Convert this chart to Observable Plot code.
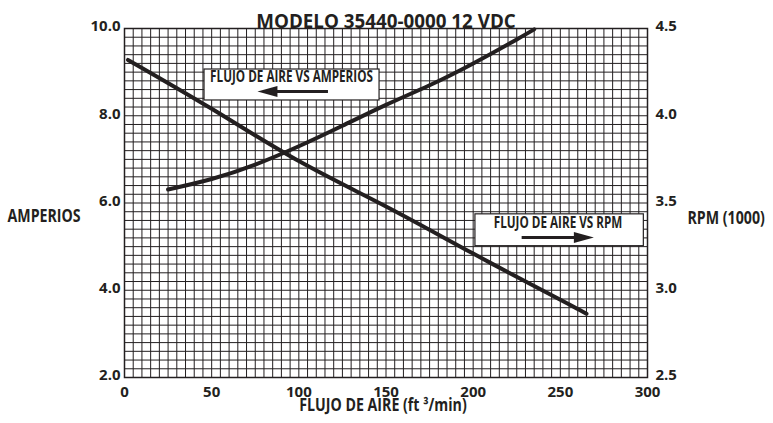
<!DOCTYPE html>
<html>
<head>
<meta charset="utf-8">
<script src="https://cdn.jsdelivr.net/npm/d3@7"></script>
<script src="https://cdn.jsdelivr.net/npm/@observablehq/plot@0.6"></script>
<style>
  html, body { margin: 0; padding: 0; background: #fff; }
  #chart svg { display: block; }
</style>
</head>
<body>
<div id="chart"></div>
<script>
// ---- Data ----
const title = "MODELO 35440-0000 12 VDC";
const xLabel = "FLUJO DE AIRE (ft \u00b3/min)";
const leftLabel = "AMPERIOS";
const rightLabel = "RPM (1000)";

// Airflow vs amps (left axis)
const ampFlow = [25, 50, 75, 100, 125, 150, 175, 200, 225, 235];
const ampValues = [6.31, 6.55, 6.88, 7.30, 7.77, 8.25, 8.70, 9.20, 9.75, 9.98];

// Airflow vs RPM (x1000, right axis)
const rpmFlow = [2, 50, 100, 150, 200, 250, 265];
const rpmValues = [4.32, 4.04, 3.74, 3.48, 3.21, 2.945, 2.865];

// Tick labels
const xTicks = [0, 50, 100, 150, 200, 250, 300];
const ampTicks = [2, 4, 6, 8, 10];
const rpmTicks = [2.5, 3.0, 3.5, 4.0, 4.5];

const ampLabelText = "FLUJO DE AIRE VS AMPERIOS";
const rpmLabelText = "FLUJO DE AIRE VS RPM";

// ---- Dual-axis mapping: RPM domain [2.5, 4.5] onto amp domain [2, 10] ----
const ampDomain = [2, 10];
const rpmDomain = [2.5, 4.5];
const rpmToAmp = d3.scaleLinear().domain(rpmDomain).range(ampDomain);

const ampData = ampFlow.map((x, i) => ({x, y: ampValues[i]}));
const rpmData = rpmFlow.map((x, i) => ({x, y: rpmToAmp(rpmValues[i])}));

const ink = "#231f20";
const font = "'Open Sans', 'Noto Sans', sans-serif";

// Custom filled arrowheads
const headRight = {draw(ctx) { ctx.moveTo(10, 0); ctx.lineTo(-10, -5.5); ctx.lineTo(-10, 5.5); ctx.closePath(); }};
const headLeft = {draw(ctx) { ctx.moveTo(-10, 0); ctx.lineTo(10, -5.5); ctx.lineTo(10, 5.5); ctx.closePath(); }};

const chart = Plot.plot({
  width: 773,
  height: 423,
  marginLeft: 124,
  marginRight: 126,
  marginTop: 28,
  marginBottom: 46,
  style: {fontFamily: font, fontSize: "15px", color: ink, background: "#fff", overflow: "visible"},
  x: {domain: [0, 300]},
  y: {domain: ampDomain},
  marks: [
    // graph-paper grid
    Plot.ruleX(d3.range(0, 301, 5), {stroke: ink, strokeWidth: 1}),
    Plot.ruleY(d3.range(0, 41).map(i => 2 + i * 0.2), {stroke: ink, strokeWidth: 1}),
    Plot.frame({stroke: ink, strokeWidth: 1.5}),

    // axes
    Plot.axisX(xTicks, {tickSize: 0, tickPadding: 9, label: null, fontWeight: "bold", fontSize: 15}),
    Plot.axisY(ampTicks, {anchor: "left", tickSize: 0, tickPadding: 4, dy: -2, label: null,
      tickFormat: d => d.toFixed(1), fontWeight: "bold", fontSize: 15}),
    Plot.axisY(rpmTicks.map(rpmToAmp), {anchor: "right", tickSize: 0, tickPadding: 8, dy: -2, label: null,
      tickFormat: d => rpmToAmp.invert(d).toFixed(1), fontWeight: "bold", fontSize: 15}),

    // curves
    Plot.line(rpmData, {x: "x", y: "y", stroke: ink, strokeWidth: 4, curve: "natural"}),
    Plot.line(ampData, {x: "x", y: "y", stroke: ink, strokeWidth: 4, curve: "natural"}),

    // annotation boxes
    Plot.rect([ampLabelText], {x1: 45.9, x2: 146.3, y1: 8.35, y2: 9.06, fill: "#fff", stroke: ink, strokeWidth: 1.2}),
    Plot.text([ampLabelText], {x: 95.8, y: 8.89, text: d => d, fontWeight: "bold", fontSize: 16, fill: ink}),
    Plot.ruleY([8.556], {x1: 83, x2: 117, stroke: ink, strokeWidth: 3}),
    Plot.dot([8.556], {x: 82, y: d => d, symbol: headLeft, fill: ink, stroke: null}),

    Plot.rect([rpmLabelText], {x1: 201.3, x2: 297.9, y1: 5.01, y2: 5.74, fill: "#fff", stroke: ink, strokeWidth: 1.2}),
    Plot.text([rpmLabelText], {x: 248.7, y: 5.54, text: d => d, fontWeight: "bold", fontSize: 16, fill: ink}),
    Plot.ruleY([5.209], {x1: 228.1, x2: 262, stroke: ink, strokeWidth: 3}),
    Plot.dot([5.209], {x: 263.5, y: d => d, symbol: headRight, fill: ink, stroke: null}),

    // titles and axis labels
    Plot.text([title], {frameAnchor: "top", dy: -14, fontWeight: "bold", fontSize: 18.8, fill: ink}),
    Plot.text([xLabel], {frameAnchor: "bottom", dx: -3, dy: 33, fontWeight: "bold", fontSize: 17.5, fill: ink}),
    Plot.text([leftLabel], {frameAnchor: "left", textAnchor: "start", dx: -117, dy: 13.5, fontWeight: "bold", fontSize: 17.5, fill: ink}),
    Plot.text([rightLabel], {frameAnchor: "right", textAnchor: "start", dx: 40, dy: 15.5, fontWeight: "bold", fontSize: 17.5, fill: ink})
  ]
});

document.getElementById("chart").appendChild(chart);

// Condense the texts that the reference sets in a narrow face
const condensed = new Map([
  [ampLabelText, 0.73], [rpmLabelText, 0.73],
  [xLabel, 0.81], [leftLabel, 0.81], [rightLabel, 0.81]
]);
chart.querySelectorAll("text").forEach(el => {
  const f = condensed.get(el.textContent);
  if (!f) return;
  const len = el.getComputedTextLength();
  el.setAttribute("textLength", (len * f).toFixed(1));
  el.setAttribute("lengthAdjust", "spacingAndGlyphs");
});
</script>
</body>
</html>
